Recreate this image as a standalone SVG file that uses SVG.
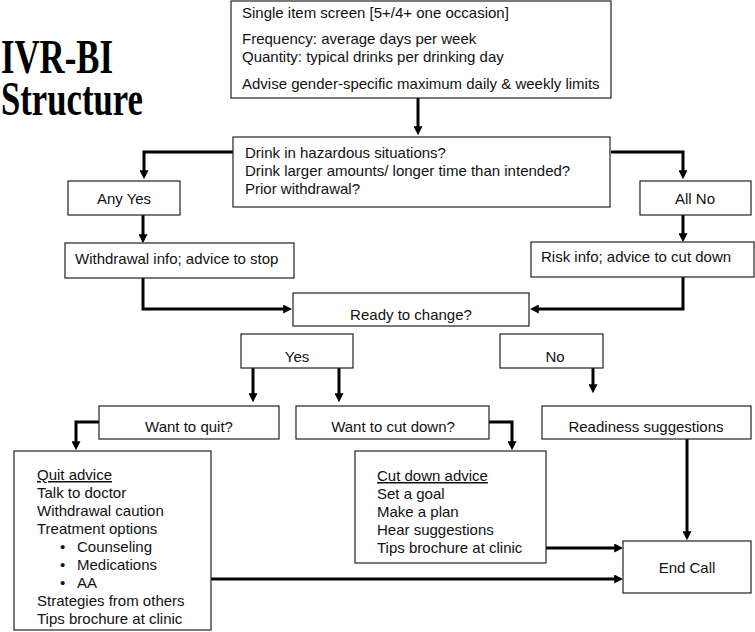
<svg xmlns="http://www.w3.org/2000/svg" width="755" height="632" viewBox="0 0 755 632">
<style>
  .box { fill: #ffffff; stroke: #222222; stroke-width: 1.2; }
  .t { font-family: "Liberation Sans", Arial, sans-serif; font-size: 15px; fill: #111111; }
  .c { text-anchor: middle; }
  .title { font-family: "Liberation Serif", "Times New Roman", serif; font-weight: bold; font-size: 48px; fill: #000000; }
  .conn { fill: none; stroke: #000000; stroke-width: 3; stroke-linejoin: miter; }
</style>
<defs>
  <marker id="ah" viewBox="0 0 10 10" markerUnits="userSpaceOnUse" markerWidth="9" markerHeight="9" refX="2" refY="5" orient="auto">
    <path d="M0,0 L10,5 L0,10 z" fill="#000000"/>
  </marker>
</defs>
<rect width="755" height="632" fill="#ffffff"/>

<g id="title">
  <text class="title" x="1" y="73" textLength="112" lengthAdjust="spacingAndGlyphs">IVR-BI</text>
  <text class="title" x="1" y="115" textLength="142" lengthAdjust="spacingAndGlyphs">Structure</text>
</g>

<g id="connectors">
  <path class="conn" marker-end="url(#ah)" d="M418,98 V128"/>
  <path class="conn" marker-end="url(#ah)" d="M233,152 H144 V172"/>
  <path class="conn" marker-end="url(#ah)" d="M611,152 H683 V172"/>
  <path class="conn" marker-end="url(#ah)" d="M143,215 V236"/>
  <path class="conn" marker-end="url(#ah)" d="M683,215 V235"/>
  <path class="conn" marker-end="url(#ah)" d="M143,278 V309 H285"/>
  <path class="conn" marker-end="url(#ah)" d="M683,277 V309 H537"/>
  <path class="conn" marker-end="url(#ah)" d="M253,368 V395"/>
  <path class="conn" marker-end="url(#ah)" d="M339,368 V395"/>
  <path class="conn" marker-end="url(#ah)" d="M593,368 V386"/>
  <path class="conn" marker-end="url(#ah)" d="M99,422 H76 V443"/>
  <path class="conn" marker-end="url(#ah)" d="M489,422 H512 V443"/>
  <path class="conn" marker-end="url(#ah)" d="M687,439 V533"/>
  <path class="conn" marker-end="url(#ah)" d="M546,548 H616"/>
  <path class="conn" marker-end="url(#ah)" d="M211,579 H616"/>
</g>

<g id="screen">
  <rect class="box" x="231" y="1" width="380" height="97"/>
  <text class="t" x="242" y="18">Single item screen [5+/4+ one occasion]</text>
  <text class="t" x="242" y="44">Frequency: average days per week</text>
  <text class="t" x="242" y="62">Quantity: typical drinks per drinking day</text>
  <text class="t" x="242" y="89">Advise gender-specific maximum daily &amp; weekly limits</text>
</g>

<g id="questions">
  <rect class="box" x="233" y="137" width="377" height="70"/>
  <text class="t" x="245" y="158">Drink in hazardous situations?</text>
  <text class="t" x="245" y="176">Drink larger amounts/ longer time than intended?</text>
  <text class="t" x="245" y="194">Prior withdrawal?</text>
</g>

<g id="any-yes">
  <rect class="box" x="68" y="181" width="112" height="34"/>
  <text class="t c" x="124" y="204">Any Yes</text>
</g>

<g id="all-no">
  <rect class="box" x="640" y="181" width="111" height="34"/>
  <text class="t c" x="695" y="204">All No</text>
</g>

<g id="withdrawal-info">
  <rect class="box" x="65" y="243" width="229" height="35"/>
  <text class="t" x="75" y="264">Withdrawal info; advice to stop</text>
</g>

<g id="risk-info">
  <rect class="box" x="531" y="242" width="223" height="35"/>
  <text class="t" x="541" y="262">Risk info; advice to cut down</text>
</g>

<g id="ready">
  <rect class="box" x="293" y="293" width="236" height="33"/>
  <text class="t c" x="411" y="320">Ready to change?</text>
</g>

<g id="yes">
  <rect class="box" x="241" y="334" width="112" height="34"/>
  <text class="t c" x="297" y="362">Yes</text>
</g>

<g id="no">
  <rect class="box" x="500" y="334" width="103" height="34"/>
  <text class="t c" x="555" y="362">No</text>
</g>

<g id="want-quit">
  <rect class="box" x="99" y="406" width="180" height="33"/>
  <text class="t c" x="189" y="432">Want to quit?</text>
</g>

<g id="want-cut">
  <rect class="box" x="296" y="406" width="193" height="33"/>
  <text class="t c" x="393" y="432">Want to cut down?</text>
</g>

<g id="readiness">
  <rect class="box" x="542" y="406" width="209" height="33"/>
  <text class="t c" x="646" y="432">Readiness suggestions</text>
</g>

<g id="quit-advice">
  <rect class="box" x="14" y="451" width="197" height="179"/>
  <text class="t" x="37" y="480" text-decoration="underline">Quit advice</text>
  <text class="t" x="37" y="498">Talk to doctor</text>
  <text class="t" x="37" y="516">Withdrawal caution</text>
  <text class="t" x="37" y="534">Treatment options</text>
  <text class="t" x="60" y="552">•</text><text class="t" x="77" y="552">Counseling</text>
  <text class="t" x="60" y="570">•</text><text class="t" x="77" y="570">Medications</text>
  <text class="t" x="60" y="588">•</text><text class="t" x="77" y="588">AA</text>
  <text class="t" x="37" y="606">Strategies from others</text>
  <text class="t" x="37" y="624">Tips brochure at clinic</text>
</g>

<g id="cut-advice">
  <rect class="box" x="355" y="451" width="191" height="112"/>
  <text class="t" x="377" y="481" text-decoration="underline">Cut down advice</text>
  <text class="t" x="377" y="499">Set a goal</text>
  <text class="t" x="377" y="517">Make a plan</text>
  <text class="t" x="377" y="535">Hear suggestions</text>
  <text class="t" x="377" y="553">Tips brochure at clinic</text>
</g>

<g id="end-call">
  <rect class="box" x="623" y="541" width="128" height="52"/>
  <text class="t c" x="687" y="573">End Call</text>
</g>
</svg>
